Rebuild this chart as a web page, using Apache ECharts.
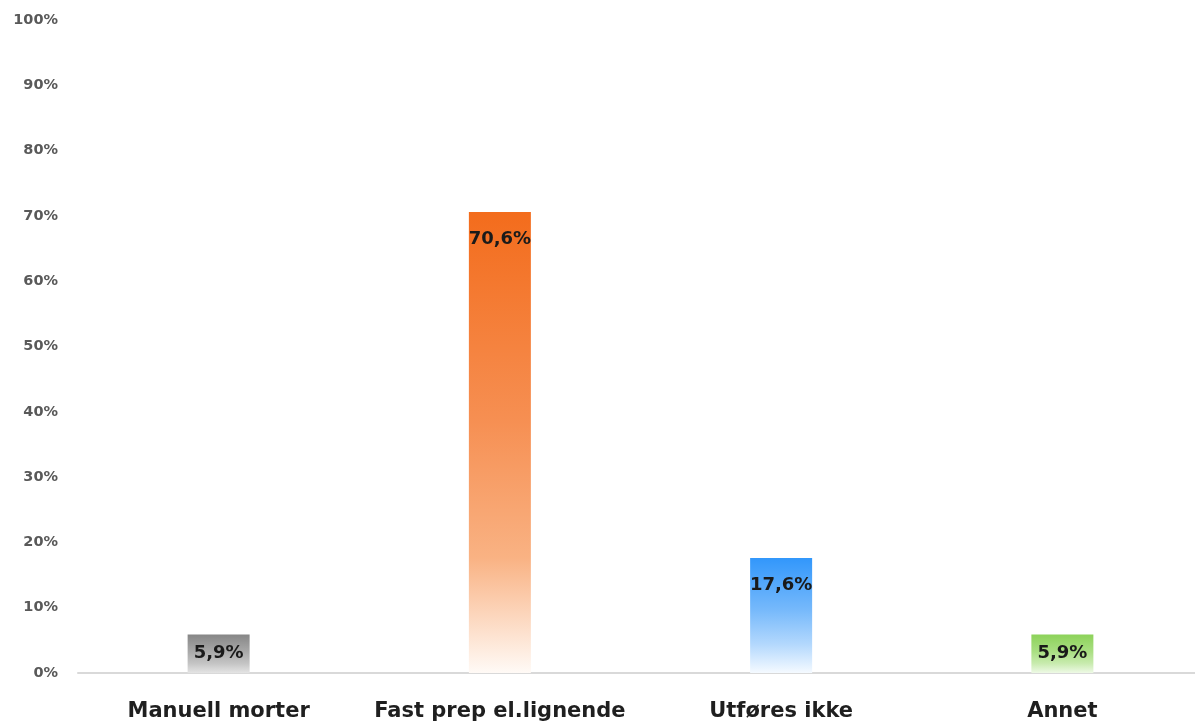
<!DOCTYPE html>
<html>
<head>
<meta charset="utf-8">
<script src="https://cdn.jsdelivr.net/npm/echarts@6/dist/echarts.min.js"></script>
<style>
  html, body { margin: 0; padding: 0; background: #ffffff; }
  #chart { width: 1195px; height: 724px; }
</style>
</head>
<body>
<div id="chart"></div>
<script>
// Answer categories and their share of responses (percent)
const categories = ['Manuell morter', 'Fast prep el.lignende', 'Utføres ikke', 'Annet'];
const values = [5.9, 70.6, 17.6, 5.9];

// Gradient colours per bar: strong at the top, fading towards the baseline
const barTopColors = ['#868686', '#f36c1c', '#3297fb', '#8cd259'];
const barMidColors = ['#a9a9a9', '#f68f52', '#76b9fb', '#aadf83'];
const barLowColors = ['#c4c4c4', '#f9b283', '#b3d8fd', '#c8ebae'];
const barBottomColors = ['#e4e4e4', '#fffaf6', '#f5faff', '#eef9e6'];

const fmtPct = v => v.toFixed(1).replace('.', ',') + '%';
const FONT = 'DejaVu Sans';

const chart = echarts.init(document.getElementById('chart'));

chart.setOption({
  animation: false,
  grid: { left: 78, top: 20, width: 1125, bottom: 51, outerBoundsMode: 'none', containLabel: false },
  xAxis: {
    type: 'category',
    data: categories,
    axisLine: { lineStyle: { color: '#d9d9d9', width: 2 } },
    axisTick: { show: false },
    axisLabel: {
      interval: 0,
      color: '#1f1f1f',
      fontFamily: FONT,
      fontWeight: 'bold',
      fontSize: 21,
      margin: 28
    }
  },
  yAxis: {
    type: 'value',
    min: 0,
    max: 100,
    interval: 10,
    axisLine: { show: false },
    axisTick: { show: false },
    splitLine: { show: false },
    axisLabel: {
      formatter: '{value}%',
      color: '#595959',
      fontFamily: FONT,
      fontWeight: 'bold',
      fontSize: 14.5,
      margin: 20
    }
  },
  series: [{
    type: 'bar',
    barWidth: 62,
    data: values.map((v, i) => ({
      value: v,
      label: v < 10 ? { position: 'inside' } : undefined,
      itemStyle: {
        color: new echarts.graphic.LinearGradient(0, 0, 0, 1, [
          { offset: 0, color: barTopColors[i] },
          { offset: 0.45, color: barMidColors[i] },
          { offset: 0.75, color: barLowColors[i] },
          { offset: 1, color: barBottomColors[i] }
        ])
      }
    })),
    label: {
      show: true,
      position: 'insideTop',
      distance: 18,
      formatter: p => fmtPct(p.value),
      color: '#1a1a1a',
      fontFamily: FONT,
      fontWeight: 'bold',
      fontSize: 18
    }
  }]
});
</script>
</body>
</html>
